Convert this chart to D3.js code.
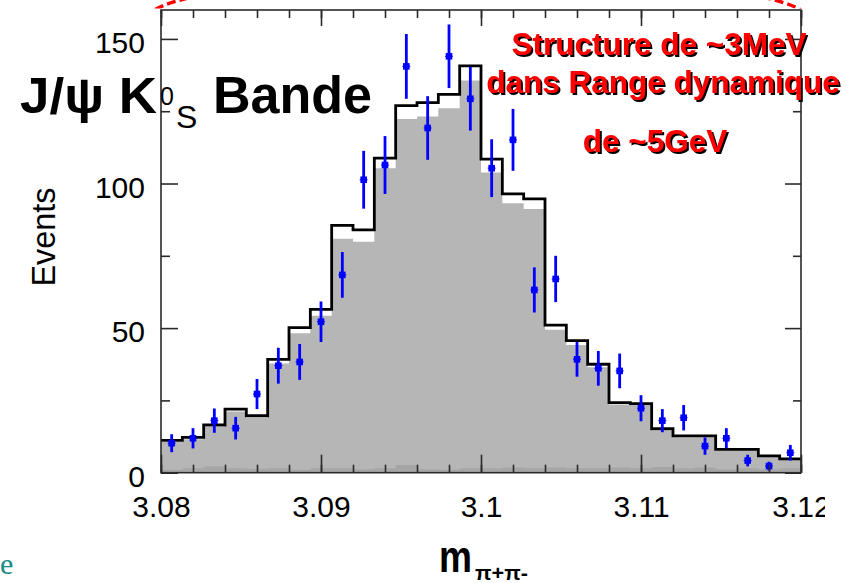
<!DOCTYPE html>
<html>
<head>
<meta charset="utf-8">
<script src="https://cdn.jsdelivr.net/npm/d3@7"></script>
<style>
  html, body { margin: 0; padding: 0; background: #fff; }
  svg { display: block; }
</style>
</head>
<body>
<svg id="chart" width="850" height="583"></svg>
<script>
// ---------------- data ----------------
const xDomain = [3.08, 3.12];
const nBins = 30;
const binEdges = d3.range(nBins + 1).map(i => 3.08 + i * (0.04 / nBins));

// total (black outline) histogram
const totalCounts = [11.2, 12.2, 16.5, 22, 19.7, 39.2, 50.2, 56.5, 85.5, 84,
                     108.8, 126.9, 128, 130.8, 140.7, 108.4, 96.4, 94.7, 51, 45.7,
                     37.5, 24.2, 23.9, 15.2, 12.7, 12.7, 8.1, 8.1, 5.8, 4.8];
// gray filled component
const grayCounts  = [10.6, 11.6, 15.8, 21.2, 19, 37.8, 48.2, 54.3, 80.9, 79.9,
                     105.3, 122.3, 123.2, 126, 135.6, 103.8, 93.2, 91.2, 49.4, 44.2,
                     36.5, 23.6, 23.4, 14.6, 12.3, 12.3, 7.8, 7.8, 5.5, 4.5];
// dark gray background band
const bkgCounts   = [1, 1.5, 2.2, 1.5, 1.4, 1.5, 1, 1.5, 1.5, 1.2,
                     1.5, 2.7, 1.2, 1, 1.5, 1.5, 1.8, 1.5, 1.8, 1.5,
                     1.5, 1.8, 1.5, 2, 1.5, 1.8, 1.2, 1.5, 1.2, 1.5];
// data points and their errors
const dataCounts  = [10.2, 11.9, 18, 15.4, 27.2, 37, 38.3, 52.2, 68.4, 101.3,
                     106.4, 140.5, 119.2, 144, 129.3, 105.3, 115.1, 63.2, 67, 39.2,
                     36.1, 35.2, 22.3, 18, 19, 9.2, 11.9, 4.2, 2.3, 6.9];
const dataErrors  = [3.1, 3.5, 4.2, 3.9, 5.2, 6.2, 6.2, 7, 7.9, 10,
                     10, 11.2, 11, 11, 11, 10, 10.7, 7.8, 8, 6,
                     6, 6, 4.5, 4, 4.4, 3, 3.5, 2, 1.5, 2.7];

const xMajorTicks = [3.08, 3.09, 3.1, 3.11, 3.12];
const xTickLabels = ["3.08", "3.09", "3.1", "3.11", "3.12"];
const xMinorTicks = d3.range(21).map(i => 3.08 + i * 0.002);
const yMajorTicks = [0, 50, 100, 150];
const yTickLabels = ["0", "50", "100", "150"];
const yMinorTicks = [25, 75, 125];

const titleMain = "J/ψ K";
const titleSup = "0";
const titleSub = "S";
const titleEnd = "Bande";
const noteLines = ["Structure de ~3MeV", "dans Range dynamique", "de ~5GeV"];
const yTitle = "Events";
const xTitle = "m";
const xTitleSub = "π+π-";

// ---------------- layout ----------------
const FONT = "'Liberation Sans', Arial, Helvetica, sans-serif";
const svg = d3.select("#chart");
const L = 161, R = 801, T = 10, B = 472.7;
const x = d3.scaleLinear().domain(xDomain).range([L, R]);
const y = d3.scaleLinear().domain([0, 160]).range([B, T]);

const defs = svg.append("defs");
const shadow = defs.append("filter").attr("id", "shadow")
  .attr("x", "-5%").attr("y", "-20%").attr("width", "110%").attr("height", "140%");
shadow.append("feDropShadow").attr("dx", 2).attr("dy", 2)
  .attr("stdDeviation", 0.3).attr("flood-color", "#000").attr("flood-opacity", 1);

// red dashed ellipse peeking at top (slide annotation)
defs.append("clipPath").attr("id", "topclip")
  .append("rect").attr("x", 0).attr("y", -50).attr("width", 850).attr("height", 58.5);
svg.append("ellipse")
  .attr("clip-path", "url(#topclip)")
  .attr("cx", 477.5).attr("cy", 18.7).attr("rx", 330).attr("ry", 43)
  .attr("fill", "none").attr("stroke", "#ff0000").attr("stroke-width", 3.5)
  .attr("stroke-dasharray", "9,4");

// chart clip (image was cut at right)
defs.append("clipPath").attr("id", "imgclip")
  .append("rect").attr("x", 0).attr("y", 0).attr("width", 825).attr("height", 583);

const g = svg.append("g").attr("clip-path", "url(#imgclip)");

function stepArea(vals) {
  return d3.area()
    .curve(d3.curveStepAfter)
    .x(d => x(d.x)).y0(y(0)).y1(d => y(d.v))(
      binEdges.map((e, i) => ({x: e, v: vals[Math.min(i, vals.length - 1)]})));
}
function stepLine(vals) {
  return d3.line()
    .curve(d3.curveStepAfter)
    .x(d => x(d.x)).y(d => y(d.v))(
      binEdges.map((e, i) => ({x: e, v: vals[Math.min(i, vals.length - 1)]})));
}

g.append("path").attr("d", stepArea(grayCounts)).attr("fill", "#b6b6b6");
g.append("path").attr("d", stepArea(bkgCounts)).attr("fill", "#a6a6a6");
g.append("path").attr("d", stepLine(totalCounts))
  .attr("fill", "none").attr("stroke", "#000").attr("stroke-width", 2.8);

// data points
const centers = binEdges.slice(0, nBins).map((e, i) => (e + binEdges[i + 1]) / 2);
const pts = g.append("g");
centers.forEach((c, i) => {
  const cx = x(c), v = dataCounts[i], e = dataErrors[i];
  pts.append("line").attr("x1", cx).attr("x2", cx)
    .attr("y1", y(v - e)).attr("y2", y(v + e))
    .attr("stroke", "#0000ff").attr("stroke-width", 2.8);
  pts.append("line").attr("x1", cx - 4).attr("x2", cx + 4)
    .attr("y1", y(v)).attr("y2", y(v))
    .attr("stroke", "#0000ff").attr("stroke-width", 1);
  pts.append("rect").attr("x", cx - 3.3).attr("y", y(v) - 3.3)
    .attr("width", 6.6).attr("height", 6.6).attr("fill", "#0000ff");
});

// frame
g.append("rect").attr("x", L).attr("y", T).attr("width", R - L).attr("height", B - T)
  .attr("fill", "none").attr("stroke", "#2a2a2a").attr("stroke-width", 1.6);

function styleAxis(sel) {
  sel.select(".domain").remove();
  sel.selectAll(".tick line").attr("stroke", "#2a2a2a").attr("stroke-width", 1.6);
  sel.selectAll("text").attr("font-family", FONT).attr("font-size", 30).attr("fill", "#000");
}
// bottom
g.append("g").attr("transform", `translate(0,${B})`)
  .call(d3.axisBottom(x).tickValues(xMinorTicks).tickSize(-8).tickFormat(""))
  .call(styleAxis);
g.append("g").attr("transform", `translate(0,${B})`)
  .call(d3.axisBottom(x).tickValues(xMajorTicks).tickSize(-18).tickPadding(22.7)
        .tickFormat((d, i) => xTickLabels[i]))
  .call(styleAxis);
// top
g.append("g").attr("transform", `translate(0,${T})`)
  .call(d3.axisTop(x).tickValues(xMinorTicks).tickSize(-8).tickFormat(""))
  .call(styleAxis);
g.append("g").attr("transform", `translate(0,${T})`)
  .call(d3.axisTop(x).tickValues(xMajorTicks).tickSize(-16).tickFormat(""))
  .call(styleAxis);
// left
g.append("g").attr("transform", `translate(${L},0)`)
  .call(d3.axisLeft(y).tickValues(yMinorTicks).tickSize(-9).tickFormat(""))
  .call(styleAxis);
const ly = g.append("g").attr("transform", `translate(${L},0)`)
  .call(d3.axisLeft(y).tickValues(yMajorTicks).tickSize(-17).tickPadding(16)
        .tickFormat((d, i) => yTickLabels[i]))
  .call(styleAxis);
ly.selectAll("text").attr("dy", "0.45em");
// right
g.append("g").attr("transform", `translate(${R},0)`)
  .call(d3.axisRight(y).tickValues(yMinorTicks).tickSize(-8).tickFormat(""))
  .call(styleAxis);
g.append("g").attr("transform", `translate(${R},0)`)
  .call(d3.axisRight(y).tickValues(yMajorTicks).tickSize(-16).tickFormat(""))
  .call(styleAxis);

// y title
svg.append("text")
  .attr("transform", "translate(55,237) rotate(-90)")
  .attr("text-anchor", "middle")
  .attr("font-family", FONT).attr("font-size", 33).attr("fill", "#000")
  .attr("textLength", 99).attr("lengthAdjust", "spacingAndGlyphs")
  .text(yTitle);

// x title
const xt = svg.append("text").attr("font-family", FONT).attr("fill", "#000");
xt.append("tspan").attr("x", 439).attr("y", 572)
  .attr("font-size", 45).attr("font-weight", "bold")
  .attr("textLength", 33).attr("lengthAdjust", "spacingAndGlyphs").text(xTitle);
xt.append("tspan").attr("x", 475).attr("y", 580)
  .attr("font-size", 21).attr("font-weight", "bold")
  .attr("textLength", 53).attr("lengthAdjust", "spacingAndGlyphs").text(xTitleSub);

// big title
const tt = svg.append("text").attr("font-family", FONT).attr("fill", "#000");
tt.append("tspan").attr("x", 20).attr("y", 113).attr("font-size", 50).attr("font-weight", "bold")
  .attr("textLength", 137).attr("lengthAdjust", "spacingAndGlyphs").text(titleMain);
tt.append("tspan").attr("x", 160).attr("y", 105).attr("font-size", 25).text(titleSup);
tt.append("tspan").attr("x", 176).attr("y", 128).attr("font-size", 32).text(titleSub);
tt.append("tspan").attr("x", 213).attr("y", 113).attr("font-size", 51).attr("font-weight", "bold")
  .attr("textLength", 159).attr("lengthAdjust", "spacingAndGlyphs").text(titleEnd);

// red annotation with shadow
const noteX = [659, 663, 655];
const noteY = [55, 92.5, 151.7];
noteLines.forEach((t, i) => {
  svg.append("text").attr("x", noteX[i]).attr("y", noteY[i])
    .attr("text-anchor", "middle").attr("font-family", FONT).attr("font-size", 31.5)
    .attr("font-weight", "bold").attr("fill", "#ff0000")
    .attr("filter", "url(#shadow)").text(t);
});

// slide remnant letter at bottom-left
svg.append("text").attr("x", 0).attr("y", 574)
  .attr("font-family", "'Liberation Serif', 'Times New Roman', serif")
  .attr("font-size", 30).attr("fill", "#178a8a").text("e");
</script>
</body>
</html>
